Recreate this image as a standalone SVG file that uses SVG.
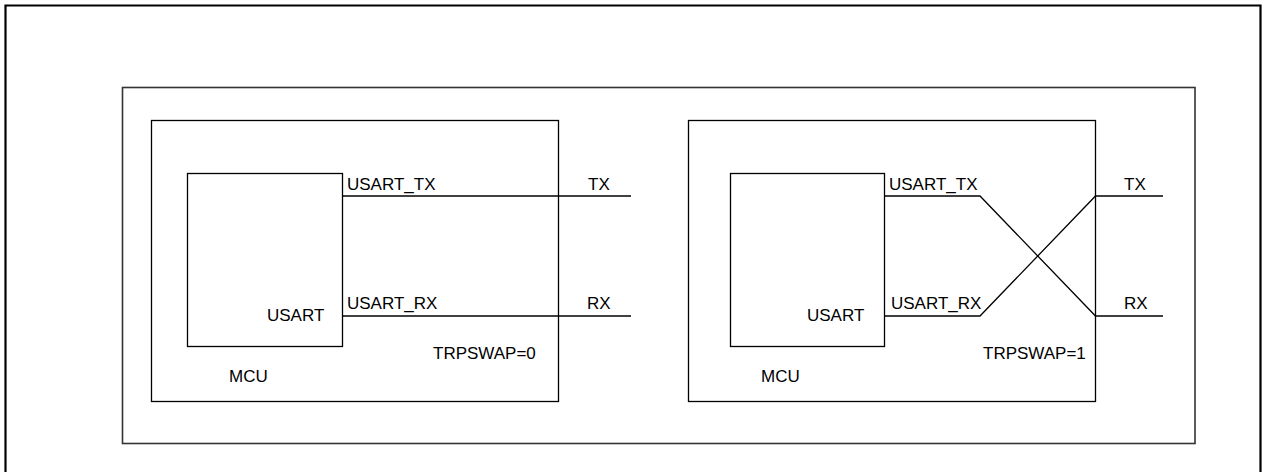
<svg xmlns="http://www.w3.org/2000/svg" width="1267" height="472" viewBox="0 0 1267 472">
<style>
  .box{fill:none;stroke:#000;stroke-width:1.3}
  .wire{fill:none;stroke:#000;stroke-width:1.3}
  .lbl{font-family:"Liberation Sans",Arial,sans-serif;font-size:17px;fill:#000}
</style>
<rect width="1267" height="472" fill="#fff"/>
<g id="outer-frame"><path d="M5.5,480 V5.5 H1260.5 V480" fill="none" stroke="#000" stroke-width="2.2"/></g>
<g id="panel-frame"><rect x="122.5" y="87.5" width="1072.5" height="356" fill="none" stroke="#333" stroke-width="1.6"/></g>

<g id="mcu-left">
  <rect class="box" x="151.5" y="120.5" width="407" height="281"/>
  <text class="lbl" x="229" y="382">MCU</text>
  <text class="lbl" x="433" y="359">TRPSWAP=0</text>
</g>
<g id="usart-left">
  <rect class="box" x="187.5" y="173.5" width="155" height="173"/>
  <text class="lbl" x="267" y="321">USART</text>
</g>
<g id="mcu-right">
  <rect class="box" x="688.5" y="120.5" width="407" height="281"/>
  <text class="lbl" x="761" y="382">MCU</text>
  <text class="lbl" x="983" y="359">TRPSWAP=1</text>
</g>
<g id="usart-right">
  <rect class="box" x="730.5" y="173.5" width="154" height="173"/>
  <text class="lbl" x="807" y="321">USART</text>
</g>

<g id="connectors">
  <path class="wire" d="M342.5,196 H631"/>
  <path class="wire" d="M342.5,316 H631"/>
  <path class="wire" d="M884.5,196 H980 L1095.5,316 H1163"/>
  <path class="wire" d="M884.5,316 H980 L1095.5,196 H1163"/>
</g>
<g id="labels">
  <text class="lbl" x="347" y="190">USART_TX</text>
  <text class="lbl" x="347" y="309">USART_RX</text>
  <text class="lbl" x="588" y="190">TX</text>
  <text class="lbl" x="587" y="309">RX</text>
  <text class="lbl" x="889" y="190">USART_TX</text>
  <text class="lbl" x="891" y="309">USART_RX</text>
  <text class="lbl" x="1124" y="190">TX</text>
  <text class="lbl" x="1124" y="309">RX</text>
</g>
</svg>
